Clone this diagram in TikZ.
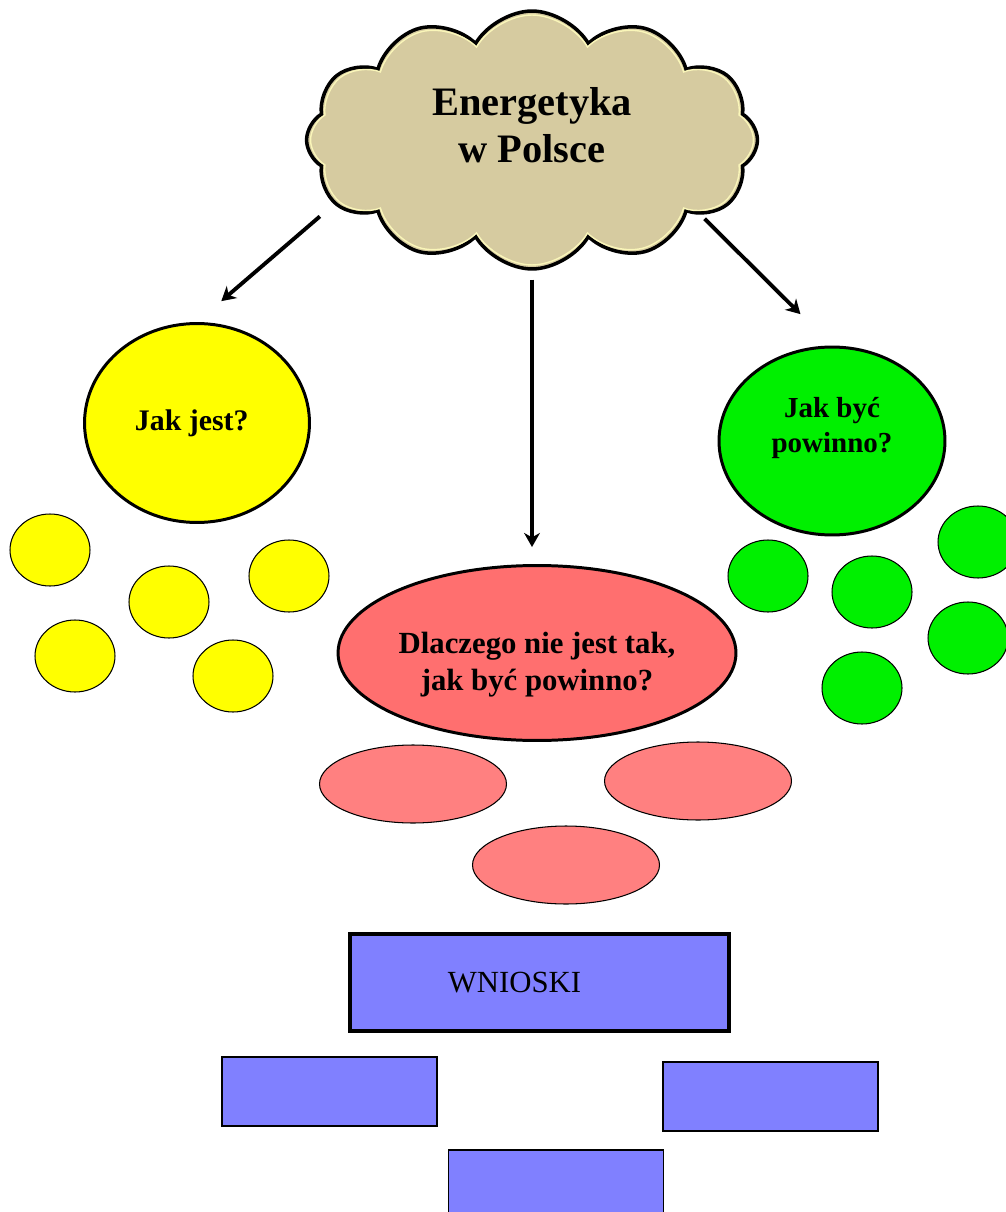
\documentclass[tikz,border=0pt]{standalone}
\usepackage{fontspec}
\setmainfont{Liberation Serif}
\usetikzlibrary{shapes.symbols,shapes.geometric,arrows.meta}
\definecolor{cloudtan}{RGB}{214,203,160}
\definecolor{cloudrim}{RGB}{250,246,185}
\definecolor{sunyellow}{RGB}{255,255,0}
\definecolor{leafgreen}{RGB}{0,240,0}
\definecolor{bigred}{RGB}{255,111,111}
\definecolor{smallred}{RGB}{255,128,128}
\definecolor{boxblue}{RGB}{128,128,255}
\newcommand\bubble[4]{\node(#1)[#2] at (#3,#4){};}

\begin{document}
\begin{tikzpicture}[x=0.02cm,y=-0.02cm,
    puffy/.style={cloud,cloud puffs=12,cloud puff arc=120,cloud ignores aspect,inner sep=0pt},
    main/.style={ellipse,draw,line width=1.7pt,align=center,inner sep=0pt},
    sub/.style={ellipse,draw,line width=0.6pt,inner sep=0pt},
    yel/.style={sub,fill=sunyellow,minimum width=1.6cm,minimum height=1.44cm},
    grn/.style={sub,fill=leafgreen,minimum width=1.6cm,minimum height=1.44cm},
    pnk/.style={sub,fill=smallred,minimum width=3.74cm,minimum height=1.56cm},
    box/.style={rectangle,draw,line width=0.8pt,fill=boxblue,minimum width=4.3cm,minimum height=1.38cm},
    arr/.style={line width=2.2pt,-{Stealth[length=8pt,width=9pt,inset=2.5pt]}}]
\useasboundingbox (0,0) rectangle (1006,1212);
\clip (0,0) rectangle (1006,1212);
% the title cloud
\node(cloud)[puffy,draw,line width=2pt,fill=cloudtan,minimum width=9.02cm,minimum height=5.16cm,
    font=\fontsize{23}{27}\selectfont\bfseries,align=center,text depth=17pt] at (532,140) {Energetyka\\w Polsce};
\node(rim)[puffy,draw=cloudrim,line width=0.8pt,minimum width=8.86cm,minimum height=5.0cm] at (532,140) {};
% three questions
\node(jest)[main,fill=sunyellow,minimum width=4.5cm,minimum height=3.98cm,
    font=\fontsize{17}{20}\selectfont\bfseries] at (197,423) {Jak jest?\kern6pt};
\node(powinno)[main,fill=leafgreen,minimum width=4.52cm,minimum height=3.76cm,
    font=\fontsize{16.5}{20}\selectfont\bfseries,text depth=18pt] at (832,441) {Jak być\\powinno?};
\node(dlaczego)[main,fill=bigred,minimum width=7.96cm,minimum height=3.5cm,
    font=\fontsize{17.5}{21}\selectfont\bfseries,text height=46pt] at (537,653) {Dlaczego nie jest tak,\\jak być powinno?};
% arrows
\draw[arr,shorten <=0.37cm,shorten >=0.64cm] (cloud.198) -- (jest.north);
\draw[arr,shorten <=0.18cm,shorten >=0.34cm] (cloud.south) -- (cloud.south |- dlaczego.north);
\draw[arr,shorten <=0.1cm,shorten >=0.89cm] (cloud.-24.5) -- (powinno.north);
% small answers
\bubble{y1}{yel}{50}{550}
\bubble{y2}{yel}{169}{602}
\bubble{y3}{yel}{289}{576}
\bubble{y4}{yel}{75}{656}
\bubble{y5}{yel}{233}{676}
\bubble{g1}{grn}{768}{576}
\bubble{g2}{grn}{872}{592}
\bubble{g3}{grn}{978}{542}
\bubble{g4}{grn}{968}{638}
\bubble{g5}{grn}{862}{688}
\bubble{r1}{pnk}{413}{784}
\bubble{r2}{pnk}{698}{781}
\bubble{r3}{pnk}{566}{865}
% conclusions
\node(wnioski)[box,line width=2pt,minimum width=7.58cm,minimum height=1.94cm,
    font=\fontsize{17.5}{20}\selectfont] at (539.5,982.5) {WNIOSKI\kern1cm};
\bubble{w1}{box}{329.5}{1091.5}
\bubble{w2}{box}{770.5}{1096.5}
\bubble{w3}{box}{556}{1184.5}
\end{tikzpicture}
\end{document}
